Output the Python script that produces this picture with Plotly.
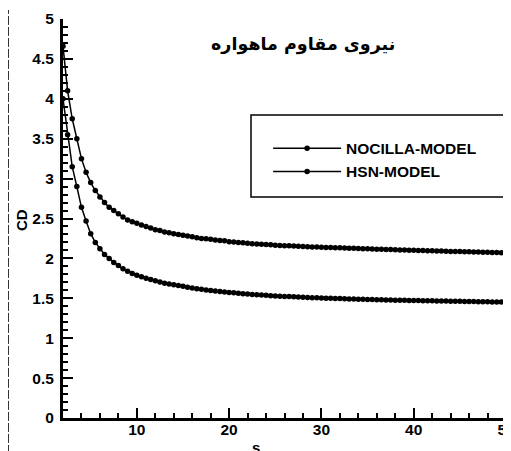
import plotly.graph_objects as go

s_values = [2 + 0.5 * i for i in range(97)]

nocilla_cd = [
    4.66, 4.10, 3.75, 3.50, 3.25, 3.08, 2.95, 2.85, 2.77, 2.70,
    2.64, 2.60, 2.56, 2.52, 2.48, 2.46, 2.44, 2.42, 2.40, 2.38,
    2.36, 2.35, 2.33, 2.32, 2.31, 2.30, 2.29, 2.28, 2.27, 2.26,
    2.25, 2.245, 2.24, 2.23, 2.225, 2.22, 2.21, 2.205, 2.20, 2.195,
    2.19, 2.185, 2.18, 2.177, 2.173, 2.17, 2.166, 2.163, 2.16, 2.157,
    2.154, 2.151, 2.148, 2.146, 2.144, 2.142, 2.14, 2.138, 2.136, 2.134,
    2.132, 2.13, 2.128, 2.126, 2.124, 2.122, 2.12, 2.118, 2.116, 2.114,
    2.112, 2.11, 2.108, 2.106, 2.105, 2.103, 2.101, 2.10, 2.098, 2.096,
    2.095, 2.093, 2.092, 2.09, 2.088, 2.087, 2.085, 2.084, 2.082, 2.081,
    2.08, 2.078, 2.077, 2.075, 2.074, 2.072, 2.07,
]

hsn_cd = [
    4.00, 3.55, 3.15, 2.90, 2.64, 2.47, 2.31, 2.20, 2.12, 2.05,
    2.00, 1.95, 1.91, 1.87, 1.84, 1.81, 1.79, 1.77, 1.75, 1.735,
    1.72, 1.705, 1.69, 1.68, 1.67, 1.66, 1.65, 1.64, 1.63, 1.62,
    1.612, 1.605, 1.598, 1.591, 1.585, 1.579, 1.573, 1.568, 1.563, 1.558,
    1.553, 1.549, 1.545, 1.541, 1.537, 1.533, 1.53, 1.527, 1.524, 1.521,
    1.518, 1.515, 1.513, 1.51, 1.508, 1.506, 1.504, 1.502, 1.50, 1.498,
    1.496, 1.494, 1.492, 1.49, 1.489, 1.487, 1.486, 1.484, 1.483, 1.481,
    1.48, 1.478, 1.477, 1.476, 1.474, 1.473, 1.472, 1.471, 1.47, 1.469,
    1.468, 1.467, 1.466, 1.465, 1.464, 1.463, 1.462, 1.461, 1.46, 1.459,
    1.458, 1.457, 1.456, 1.455, 1.455, 1.454, 1.453,
]

series_names = ["NOCILLA-MODEL", "HSN-MODEL"]
x_tick_values = [10, 20, 30, 40, 50]
y_tick_values = [0, 0.5, 1, 1.5, 2, 2.5, 3, 3.5, 4, 4.5, 5]
title_text = "نیروی مقاوم ماهواره"
x_title = "s"
y_title = "CD"

FAM = "Liberation Sans, Arial, sans-serif"
BOLD = dict(family=FAM, color="black", weight="bold")

fig = go.Figure()
for name, ys in zip(series_names, [nocilla_cd, hsn_cd]):
    fig.add_trace(go.Scatter(
        x=s_values, y=ys, name=name, mode="lines+markers",
        line=dict(color="black", width=1.5),
        marker=dict(color="black", size=5.5, symbol="circle"),
    ))

# the page body has an 8px margin, so the figure is sized to end at the window edge
fig.update_layout(
    width=503, height=443,
    margin=dict(l=55, r=5, t=11, b=33, autoexpand=False),
    paper_bgcolor="white", plot_bgcolor="white",
    showlegend=True,
    legend=dict(
        x=0.463, y=0.7175, xanchor="left", yanchor="top",
        bgcolor="rgba(0,0,0,0)", borderwidth=0,
        font=dict(size=15.5, **BOLD),
        itemwidth=68, tracegroupgap=0,
    ),
    shapes=[
        dict(type="rect", xref="paper", yref="paper",
             x0=(251 - 63) / 443, x1=1.05, y0=(418 - 197) / 399, y1=(418 - 115) / 399,
             line=dict(color="black", width=1.5), fillcolor="rgba(0,0,0,0)", layer="below"),
        dict(type="line", xref="paper", yref="paper",
             x0=(8.5 - 63) / 443, x1=(8.5 - 63) / 443, y0=-0.09, y1=(418 - 10) / 399,
             line=dict(color="#333333", width=1, dash="9px,2px")),
    ],
    annotations=[
        dict(text=title_text, xref="paper", yref="paper",
             x=(303 - 63) / 443, y=(418 - 44) / 399, showarrow=False,
             xanchor="center", yanchor="middle",
             font=dict(family="DejaVu Sans", size=17.5, color="black", weight="bold")),
        dict(text="<b>" + x_title + "</b>", xref="paper", yref="paper",
             x=(256 - 63) / 443, y=-(447 - 418) / 399, showarrow=False,
             xanchor="center", yanchor="middle",
             font=dict(size=15, family=FAM, color="black")),
        dict(text="<b>" + y_title + "</b>", xref="paper", yref="paper",
             x=(21 - 63) / 443, y=(418 - 220) / 399, showarrow=False, textangle=-90,
             xanchor="center", yanchor="middle",
             font=dict(size=15, family=FAM, color="black")),
    ],
)

fig.update_xaxes(
    range=[2, 50], tickmode="array", tickvals=x_tick_values,
    ticktext=["<b>%g</b>" % v for v in x_tick_values],
    showgrid=False, zeroline=False, automargin=False,
    showline=True, linecolor="black", linewidth=3, mirror=False,
    ticks="inside", ticklen=10, tickwidth=2, tickcolor="black",
    minor=dict(ticks="inside", dtick=2, tick0=0, ticklen=5, tickwidth=1.5, tickcolor="black", showgrid=False),
    tickfont=dict(size=15.5, family=FAM, color="black"),
    ticklabeloverflow="allow", ticklabelstandoff=-5,
)
fig.update_yaxes(
    range=[0, 5], tickmode="array", tickvals=y_tick_values,
    ticktext=["<b>%g</b>" % v for v in y_tick_values],
    showgrid=False, zeroline=False, automargin=False,
    showline=True, linecolor="black", linewidth=3, mirror=False,
    ticks="inside", ticklen=10, tickwidth=2, tickcolor="black",
    minor=dict(ticks="inside", dtick=0.1, tick0=0, ticklen=5, tickwidth=1.5, tickcolor="black", showgrid=False),
    tickfont=dict(size=15.5, family=FAM, color="black"),
    ticklabeloverflow="allow", ticklabelstandoff=3,
)

fig.write_html("out.html")
